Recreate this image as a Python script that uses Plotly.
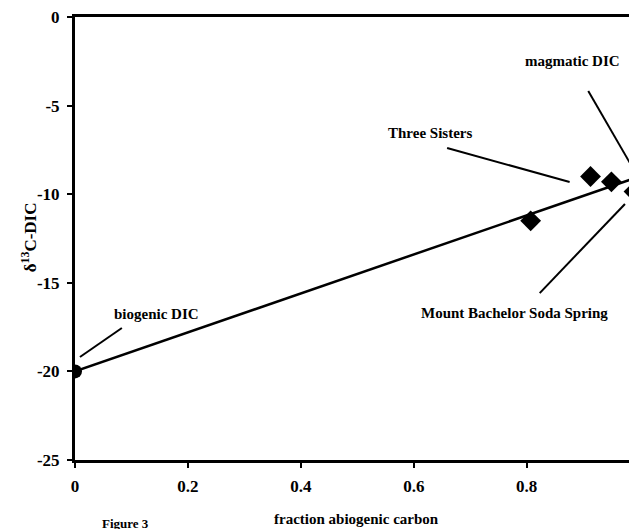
import plotly.graph_objects as go

# Data
mix_x = [0.0, 1.0]
mix_y = [-20.0, -9.0]
end_x = [0.0, 1.0]
end_y = [-20.0, -9.0]
sample_x = [0.807, 0.913, 0.950, 0.990]
sample_y = [-11.5, -9.0, -9.3, -9.85]
xticks = [0, 0.2, 0.4, 0.6, 0.8]
xtick_labels = ["0", "0.2", "0.4", "0.6", "0.8"]
yticks = [0, -5, -10, -15, -20, -25]
ytick_labels = ["0", "-5", "-10", "-15", "-20", "-25"]

FONT = "Liberation Serif"

fig = go.Figure()
fig.add_trace(go.Scatter(x=mix_x, y=mix_y, mode="lines",
                         line=dict(color="black", width=2.5), showlegend=False))
fig.add_trace(go.Scatter(x=end_x, y=end_y, mode="markers",
                         marker=dict(symbol="circle", size=14, color="black"), showlegend=False))
fig.add_trace(go.Scatter(x=sample_x, y=sample_y, mode="markers",
                         marker=dict(symbol="diamond", size=16, color="black"), showlegend=False))

labels = [
    ("magmatic DIC", 0.881, -2.48, (0.909, -4.18), (0.987, -8.47)),
    ("Three Sisters", 0.629, -6.55, (0.659, -7.39), (0.876, -9.31)),
    ("Mount Bachelor Soda Spring", 0.779, -16.7, (0.974, -10.55), (0.823, -15.58)),
    ("biogenic DIC", 0.144, -16.76, (0.083, -17.55), (0.0088, -19.19)),
]
for text, tx, ty, p0, p1 in labels:
    fig.add_annotation(x=tx, y=ty, text="<b>%s</b>" % text, showarrow=False,
                       xanchor="center", yanchor="middle",
                       font=dict(family=FONT, size=15, color="black"))
    fig.add_shape(type="line", x0=p0[0], y0=p0[1], x1=p1[0], y1=p1[1],
                  line=dict(color="black", width=2))

fig.add_annotation(xref="paper", yref="paper", x=-0.082, y=0.503,
                   xanchor="center", yanchor="middle",
                   text="<b>δ<sup>13</sup>C-DIC</b>", textangle=-90, showarrow=False,
                   font=dict(family=FONT, size=17, color="black"))
fig.add_annotation(xref="paper", yref="paper", x=0.504, y=-0.133,
                   xanchor="center", yanchor="middle",
                   text="<b>fraction abiogenic carbon</b>", showarrow=False,
                   font=dict(family=FONT, size=15, color="black"))
fig.add_annotation(xref="paper", yref="paper", x=0.09, y=-0.143,
                   xanchor="center", yanchor="middle",
                   text="<b>Figure 3</b>", showarrow=False,
                   font=dict(family=FONT, size=13, color="black"))

fig.update_xaxes(range=[0, 0.99], tickvals=xticks, ticktext=["<b>%s</b>" % t for t in xtick_labels],
                 showgrid=False, zeroline=False, showline=True, linewidth=3, linecolor="black",
                 mirror=True, ticks="outside", ticklen=5, tickwidth=1.5, tickcolor="black",
                 ticklabelstandoff=4, ticklabeloverflow="allow",
                 tickfont=dict(family=FONT, size=17, color="black"))
fig.update_yaxes(range=[-25, 0], tickvals=yticks, ticktext=["<b>%s</b>" % t for t in ytick_labels],
                 showgrid=False, zeroline=False, showline=True, linewidth=3, linecolor="black",
                 mirror=True, ticks="outside", ticklen=5, tickwidth=1.5, tickcolor="black",
                 ticklabelstandoff=4, ticklabeloverflow="allow",
                 tickfont=dict(family=FONT, size=17, color="black"))

fig.update_layout(width=629, height=521, margin=dict(l=67, r=0, t=9, b=69),
                  plot_bgcolor="white", paper_bgcolor="white")
fig.write_html("out.html")
